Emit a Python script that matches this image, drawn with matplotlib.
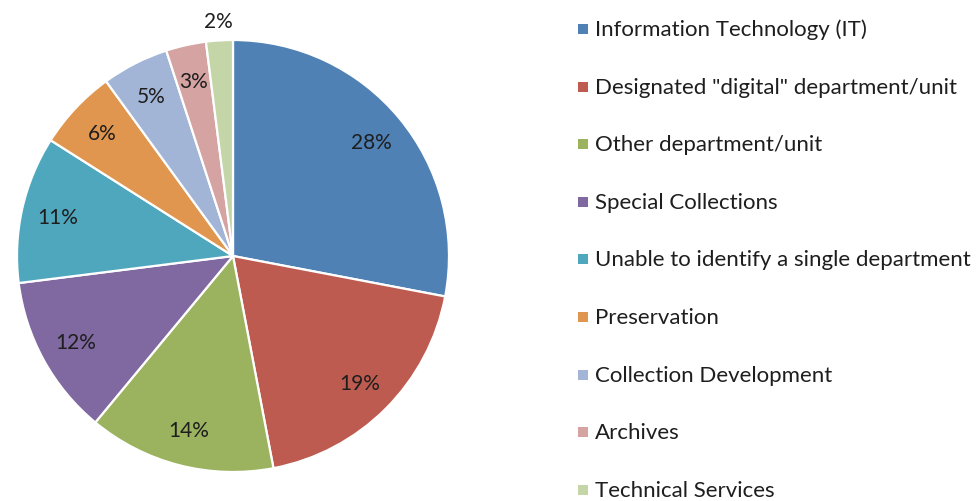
import numpy as np
import matplotlib
matplotlib.use('Agg')
import matplotlib.pyplot as plt
from matplotlib.patches import Rectangle

# Data
labels = ['Information Technology (IT)', 'Designated "digital" department/unit',
          'Other department/unit', 'Special Collections',
          'Unable to identify a single department', 'Preservation',
          'Collection Development', 'Archives', 'Technical Services']
values = [28, 19, 14, 12, 11, 6, 5, 3, 2]
colors = ['#4F81B5', '#BD5B50', '#9BB35E', '#8068A0', '#4FA7BE',
          '#E0964E', '#A3B5D6', '#D6A3A3', '#C4D6A8']

plt.rcParams['font.family'] = ['Lato', 'DejaVu Sans']

W, H = 977, 502
fig = plt.figure(figsize=(W / 100, H / 100), dpi=100)

# pie axes: centre (233, 257) px, radius 216 px
cx, cy, r = 233, 257, 216
ax = fig.add_axes([(cx - r) / W, (H - cy - r) / H, 2 * r / W, 2 * r / H])
wedges, texts, autotexts = ax.pie(
    values, colors=colors, startangle=90, counterclock=False,
    autopct='%1.0f%%', pctdistance=0.83,
    wedgeprops=dict(edgecolor='white', linewidth=1.6),
    textprops=dict(fontsize=15, color='#1e1e1e'))
ax.set_xlim(-1, 1)
ax.set_ylim(-1, 1)
ax.set_aspect('equal')

# smallest slice gets its label outside
w = wedges[-1]
ang = np.deg2rad((w.theta1 + w.theta2) / 2)
autotexts[-1].set_position((1.09 * np.cos(ang), 1.09 * np.sin(ang)))

# legend drawn by hand to match the row spacing
y0, step = 30, 57.6
for i, (lab, col) in enumerate(zip(labels, colors)):
    y = y0 + i * step
    fig.patches.append(Rectangle((578 / W, (H - y - 5) / H), 10 / W, 10 / H,
                                 transform=fig.transFigure, facecolor=col,
                                 edgecolor='none'))
    fig.text(595 / W, (H - y) / H, lab, fontsize=16, color='#1e1e1e',
             va='center', ha='left')

fig.savefig('out.png', dpi=100)
